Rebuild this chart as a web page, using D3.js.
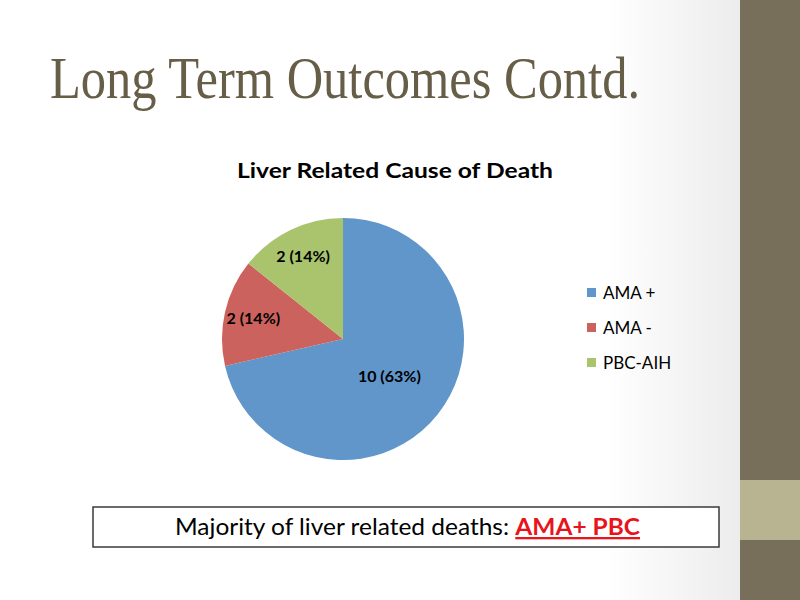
<!DOCTYPE html>
<html>
<head>
<meta charset="utf-8">
<script src="https://cdn.jsdelivr.net/npm/d3@7"></script>
<style>
  body { margin: 0; background: #fff; }
  svg { display: block; }
</style>
</head>
<body>
<div id="chart"></div>
<script>
var width = 800;
var height = 600;

// chart data
let categories = ["AMA +", "AMA -", "PBC-AIH"];
let values = [10, 2, 2];
let labels = ["10 (63%)", "2 (14%)", "2 (14%)"];
let colors = ["#6096CA", "#CC625D", "#A9C46C"];

var svg = d3.select("#chart")
            .append("svg")
              .attr("width", width).attr("height", height);

// slide background with slight shading near the side bar
let defs = svg.append("defs");
let grad = defs.append("linearGradient").attr("id", "bg").attr("x1", "0").attr("x2", "1");
grad.append("stop").attr("offset", "0.82").attr("stop-color", "#ffffff");
grad.append("stop").attr("offset", "1").attr("stop-color", "#ececec");
svg.append("rect").attr("x", 0).attr("y", 0).attr("width", 740).attr("height", height).attr("fill", "url(#bg)");

// side bar
svg.append("rect").attr("x", 740).attr("y", 0).attr("width", 60).attr("height", height).attr("fill", "#776F5A");
svg.append("rect").attr("x", 740).attr("y", 480).attr("width", 60).attr("height", 60).attr("fill", "#B8B390");

// slide title
svg.append("text")
    .attr("x", 50).attr("y", 98)
    .attr("font-family", "Liberation Serif, serif")
    .attr("font-size", 60)
    .attr("fill", "#675E48")
    .attr("textLength", 590)
    .attr("lengthAdjust", "spacingAndGlyphs")
    .text("Long Term Outcomes Contd.");

// chart title
svg.append("text")
    .attr("x", 395).attr("y", 178)
    .attr("text-anchor", "middle")
    .attr("font-family", "Lato, sans-serif")
    .attr("font-weight", "bold")
    .attr("font-size", 21)
    .attr("textLength", 316)
    .attr("lengthAdjust", "spacingAndGlyphs")
    .text("Liver Related Cause of Death");

// pie
let cx = 343, cy = 339, r = 121;
let pie = d3.pie().sort(null).value(d => d);
let arcs = pie(values);
let arc = d3.arc().innerRadius(0).outerRadius(r);

let gPie = svg.append("g").attr("transform", `translate(${cx},${cy})`);
gPie.selectAll("path").data(arcs)
    .join("path")
    .attr("d", arc)
    .attr("fill", (d, i) => colors[i]);

// labels: big slice nearer center, small ones further out
gPie.selectAll("text").data(arcs)
    .join("text")
    .attr("transform", d => {
        let lr = (d.endAngle - d.startAngle) > Math.PI ? r * 0.49 : r * 0.76;
        let c = d3.arc().innerRadius(lr).outerRadius(lr).centroid(d);
        return `translate(${c[0]},${c[1]})`;
    })
    .attr("text-anchor", "middle")
    .attr("dy", "0.35em")
    .attr("font-family", "Lato, sans-serif")
    .attr("font-weight", "bold")
    .attr("font-size", 16)
    .attr("fill", "#000")
    .text((d, i) => labels[i]);

// legend
let legend = svg.append("g").attr("transform", "translate(587,288)");
let lg = legend.selectAll("g").data(categories)
    .join("g").attr("transform", (d, i) => `translate(0,${i * 35})`);
lg.append("rect").attr("width", 9).attr("height", 9).attr("fill", (d, i) => colors[i]);
lg.append("text")
    .attr("x", 16).attr("y", 11)
    .attr("font-family", "Lato, sans-serif")
    .attr("font-size", 17)
    .text(d => d);

// summary box
svg.append("rect")
    .attr("x", 93).attr("y", 507).attr("width", 626).attr("height", 40)
    .attr("fill", "#fff").attr("stroke", "#3a3a3a").attr("stroke-width", 1.5);

let note = svg.append("text")
    .attr("x", 175).attr("y", 535)
    .attr("font-family", "Lato, sans-serif")
    .attr("font-size", 23)
    .attr("textLength", 465)
    .attr("lengthAdjust", "spacingAndGlyphs");
note.append("tspan").text("Majority of liver related deaths: ");
note.append("tspan")
    .attr("font-weight", "bold").attr("fill", "#E8141B")
    .attr("text-decoration", "underline")
    .text("AMA+ PBC");
</script>
</body>
</html>
